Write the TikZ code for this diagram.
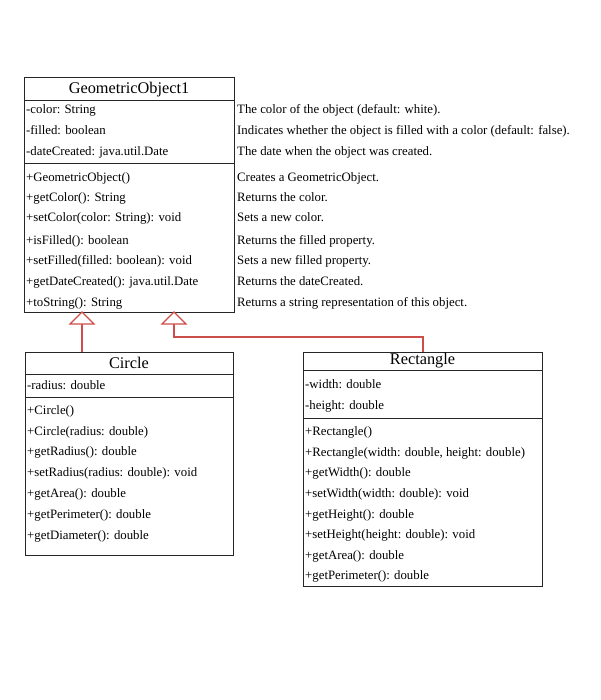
\documentclass[tikz,border=0pt]{standalone}
\usepackage{fontspec}
\setmainfont{Liberation Serif}
\definecolor{genred}{RGB}{205,78,72}
\begin{document}
\begin{tikzpicture}[x=1pt,y=-1pt,
  comp/.style={draw=black!85,line width=1pt,anchor=north west,inner sep=0pt,outer sep=0pt},
  ttl/.style={font=\fontsize{16.3}{19}\selectfont,anchor=center,inner sep=0pt},
  txt/.style={font=\fontsize{12.8}{14}\selectfont,anchor=base west,inner sep=0pt},
  gen/.style={draw=genred,line width=1.2pt},
  tri/.style={draw=genred,line width=1.2pt,fill=white,line join=miter}]
\useasboundingbox (0,0) rectangle (600,700);
% GeometricObject1
\node[comp,minimum width=210,minimum height=23] (gt) at (24,78) {};
\node[comp,minimum width=210,minimum height=63] (ga) at (24,101) {};
\node[comp,minimum width=210,minimum height=148] (gm) at (24,164) {};
\node[ttl] (gtt) at (gt.center) {GeometricObject1};
\node[txt] (g1) at (26,114) {-color: String};
\node[txt] (g2) at (26,135) {-filled: boolean};
\node[txt] (g3) at (26,156) {-dateCreated: java.util.Date};
\node[txt] (g4) at (26,182) {+GeometricObject()};
\node[txt] (g5) at (26,202) {+getColor(): String};
\node[txt] (g6) at (26,222) {+setColor(color: String): void};
\node[txt] (g7) at (26,244) {+isFilled(): boolean};
\node[txt] (g8) at (26,264) {+setFilled(filled: boolean): void};
\node[txt] (g9) at (26,285) {+getDateCreated(): java.util.Date};
\node[txt] (g10) at (26,306) {+toString(): String};
% descriptions
\node[txt] (d1) at (237,114) {The color of the object (default: white).};
\node[txt] (d2) at (237,135) {Indicates whether the object is filled with a color (default: false).};
\node[txt] (d3) at (237,156) {The date when the object was created.};
\node[txt] (d4) at (237,182) {Creates a GeometricObject.};
\node[txt] (d5) at (237,202) {Returns the color.};
\node[txt] (d6) at (237,222) {Sets a new color.};
\node[txt] (d7) at (237,244) {Returns the filled property.};
\node[txt] (d8) at (237,264) {Sets a new filled property.};
\node[txt] (d9) at (237,285) {Returns the dateCreated.};
\node[txt] (d10) at (237,306) {Returns a string representation of this object.};
% Circle
\node[comp,minimum width=208,minimum height=22] (ct) at (25,352) {};
\node[comp,minimum width=208,minimum height=23] (ca) at (25,374) {};
\node[comp,minimum width=208,minimum height=158] (cm) at (25,397) {};
\node[ttl] (ctt) at (ct.center) {Circle};
\node[txt] (c1) at (27,389) {-radius: double};
\node[txt] (c2) at (27,414) {+Circle()};
\node[txt] (c3) at (27,435) {+Circle(radius: double)};
\node[txt] (c4) at (27,455) {+getRadius(): double};
\node[txt] (c5) at (27,476) {+setRadius(radius: double): void};
\node[txt] (c6) at (27,497) {+getArea(): double};
\node[txt] (c7) at (27,518) {+getPerimeter(): double};
\node[txt] (c8) at (27,539) {+getDiameter(): double};
% Rectangle
\node[comp,minimum width=239,minimum height=18] (rt) at (303,352) {};
\node[comp,minimum width=239,minimum height=48] (ra) at (303,370) {};
\node[comp,minimum width=239,minimum height=168] (rm) at (303,418) {};
\node[ttl] (rtt) at (rt.center) {Rectangle};
\node[txt] (r1) at (305,388) {-width: double};
\node[txt] (r2) at (305,409) {-height: double};
\node[txt] (r3) at (305,435) {+Rectangle()};
\node[txt] (r4) at (305,456) {+Rectangle(width: double, height: double)};
\node[txt] (r5) at (305,476) {+getWidth(): double};
\node[txt] (r6) at (305,497) {+setWidth(width: double): void};
\node[txt] (r7) at (305,518) {+getHeight(): double};
\node[txt] (r8) at (305,538) {+setHeight(height: double): void};
\node[txt] (r9) at (305,559) {+getArea(): double};
\node[txt] (r10) at (305,579) {+getPerimeter(): double};
% generalization
\coordinate (tip1) at (82,312);
\coordinate (tip2) at (174,312);
\coordinate (bend) at (423,337);
\draw[gen] (ct.north -| tip1) -- ++(0,-28);
\draw[tri] (tip1) -- ++(-12,12) -- ++(24,0) -- cycle;
\draw[gen] (rt.north -| bend) -- (bend) -- (bend -| tip2) -- ++(0,-13);
\draw[tri] (tip2) -- ++(-12,12) -- ++(24,0) -- cycle;
\end{tikzpicture}
\end{document}
